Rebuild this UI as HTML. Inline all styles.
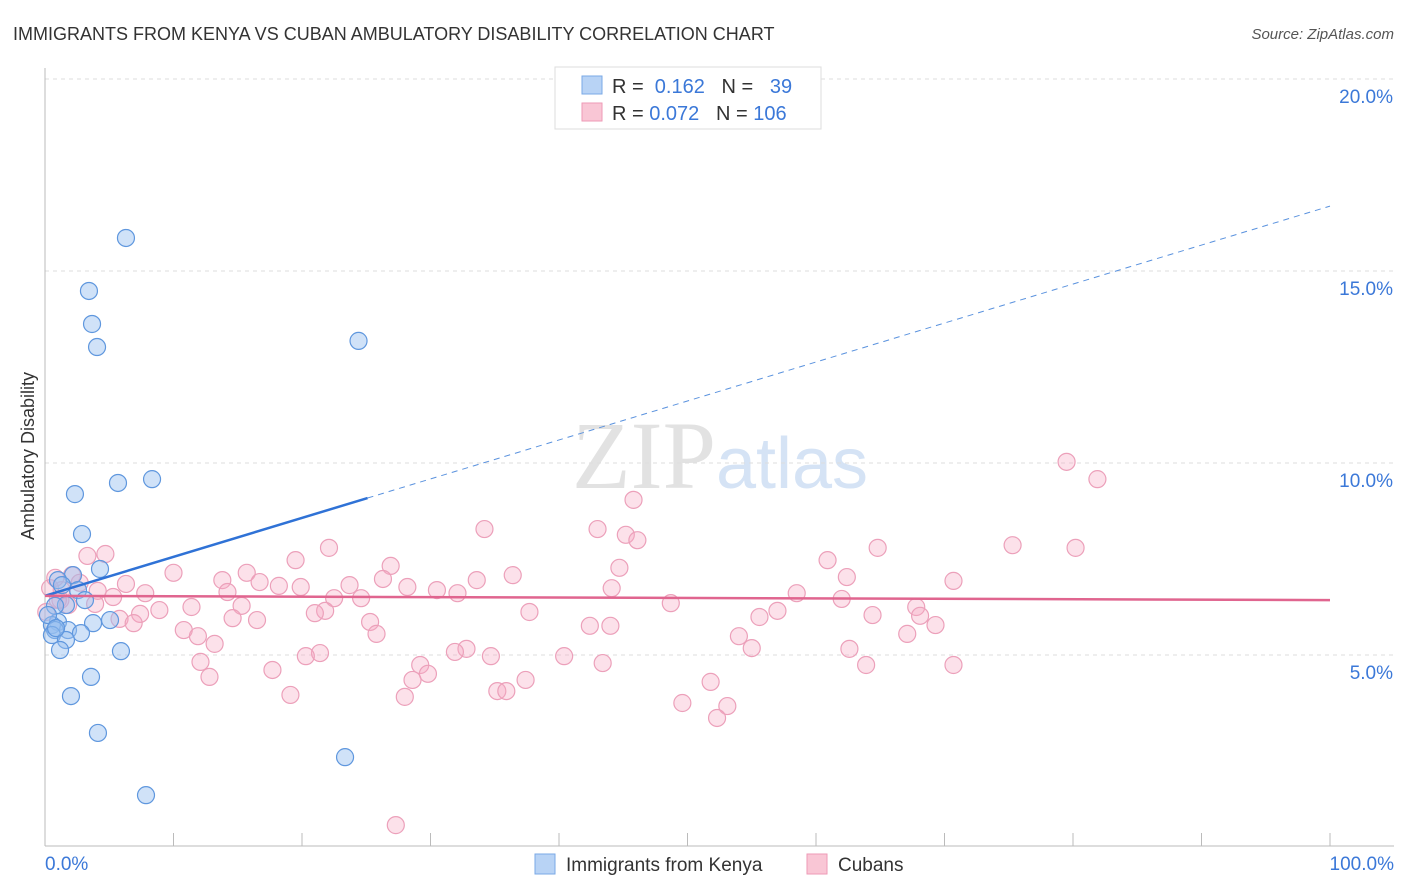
<!DOCTYPE html>
<html><head><meta charset="utf-8"><style>
body{margin:0;background:#fff;font-family:"Liberation Sans",sans-serif}
svg{display:block}
</style></head><body>
<svg width="1406" height="892">
<text x="13" y="40" font-size="18" fill="#333">IMMIGRANTS FROM KENYA VS CUBAN AMBULATORY DISABILITY CORRELATION CHART</text>
<text x="1394" y="39" font-size="15" fill="#555" font-style="italic" text-anchor="end">Source: ZipAtlas.com</text>
<text x="720" y="488" font-size="96" fill="#e2e2e2" text-anchor="middle" font-family="Liberation Serif,serif">ZIP<tspan fill="#d5e3f5" font-family="Liberation Sans,sans-serif" font-size="72">atlas</tspan></text>
<g id="grid"></g><g id="axes"></g>
<text transform="translate(34,456) rotate(-90)" font-size="18" fill="#333" text-anchor="middle">Ambulatory Disability</text>
<g id="pts"></g><g id="lines"></g>
<g>
<rect x="555" y="67" width="266" height="62" fill="#fff" stroke="#ddd"/>
<rect x="582" y="76" width="20" height="18" fill="#b8d3f5" stroke="#7aa8e6"/>
<rect x="582" y="103" width="20" height="18" fill="#f9c6d5" stroke="#ee9ab6"/>
<text x="612" y="93" font-size="20" fill="#333">R = <tspan fill="#3b78d8">&#160;0.162</tspan>&#160;&#160;&#160;N = <tspan fill="#3b78d8">&#160;&#160;39</tspan></text>
<text x="612" y="120" font-size="20" fill="#333">R = <tspan fill="#3b78d8">0.072</tspan>&#160;&#160;&#160;N = <tspan fill="#3b78d8">106</tspan></text>
</g>
<g>
<rect x="535" y="854" width="20" height="20" fill="#b8d3f5" stroke="#7aa8e6"/>
<text x="566" y="871" font-size="19" fill="#333">Immigrants from Kenya</text>
<rect x="807" y="854" width="20" height="20" fill="#f9c6d5" stroke="#ee9ab6"/>
<text x="838" y="871" font-size="19" fill="#333">Cubans</text>
</g>
<text x="45" y="870" font-size="19" fill="#3b78d8">0.0%</text>
<text x="1394" y="870" font-size="19" fill="#3b78d8" text-anchor="end">100.0%</text>
</svg>
<script>
const kenyaX=[6.3,3.42,3.66,4.05,24.4,8.33,5.68,2.33,2.88,4.28,2.18,1.01,2.57,3.11,1.63,0.78,5.06,3.74,1.01,0.54,1.79,2.8,0.78,0.54,1.63,1.17,5.91,3.58,2.02,4.12,23.35,7.86,0.23,1.32,0.86];
const kenyaY=[15.86,14.48,13.62,13.02,13.18,9.58,9.48,9.19,8.15,7.24,7.08,6.95,6.69,6.43,6.30,6.28,5.91,5.83,5.86,5.78,5.65,5.57,5.65,5.52,5.39,5.13,5.10,4.43,3.93,2.97,2.34,1.35,6.04,6.82,5.7];
const cubaX=[79.5,81.9,45.8,34.2,43.0,45.2,46.1,22.1,64.8,75.3,80.2,3.3,4.7,19.5,26.9,44.7,60.9,10.0,15.7,36.4,2.1,26.3,6.3,13.8,16.7,23.7,28.2,33.6,62.4,70.7,18.2,19.9,30.5,32.1,4.1,5.3,7.8,44.1,58.5,1.3,14.2,22.5,24.6,0.4,3.9,11.4,8.9,15.3,21.8,37.7,48.7,62.0,67.8,7.4,5.8,14.6,6.9,16.5,21.0,25.3,64.4,55.6,57.0,68.1,69.3,10.8,11.9,25.8,42.4,44.0,54.0,67.1,13.2,32.8,21.4,20.3,31.9,34.7,40.4,55.0,62.6,12.1,17.7,29.2,43.4,29.8,63.9,70.7,12.8,28.6,37.4,19.1,28.0,35.2,35.9,51.8,49.6,53.1,52.3,27.3,1.2,0.8,0.1,2.7,1.8,1.0];
const cubaY=[10.03,9.58,9.04,8.28,8.28,8.13,7.99,7.79,7.79,7.86,7.79,7.58,7.63,7.47,7.32,7.27,7.47,7.14,7.14,7.08,7.08,6.98,6.85,6.95,6.90,6.82,6.77,6.95,7.03,6.93,6.80,6.77,6.69,6.61,6.67,6.51,6.61,6.74,6.61,6.69,6.64,6.48,6.48,6.74,6.33,6.25,6.17,6.28,6.15,6.12,6.35,6.46,6.25,6.07,5.94,5.96,5.83,5.91,6.09,5.86,6.04,5.99,6.15,6.02,5.78,5.65,5.49,5.55,5.76,5.76,5.49,5.55,5.29,5.16,5.05,4.97,5.08,4.97,4.97,5.18,5.16,4.82,4.61,4.74,4.79,4.51,4.74,4.74,4.43,4.35,4.35,3.96,3.91,4.06,4.06,4.30,3.75,3.67,3.36,0.57,6.43,7.01,6.12,6.88,6.30,6.43];
const yTicks=[5,10,15,20];
const yTickLabels=["5.0%","10.0%","15.0%","20.0%"];
const kenyaTrend=[6.54,16.69]; // y at x=0, x=100
const cubaTrend=[6.54,6.43];
const kenyaSolidEnd=25.1;
const sx=v=>45+v*12.85, sy=v=>847-v*38.4;
const NS="http://www.w3.org/2000/svg";
function mk(t,a,p){const e=document.createElementNS(NS,t);for(const k in a)e.setAttribute(k,a[k]);p.appendChild(e);return e;}
const grid=document.getElementById('grid'),axes=document.getElementById('axes');
yTicks.forEach((t,i)=>{
 const l=mk('line',{x1:45,x2:1394,y1:sy(t),y2:sy(t),stroke:'#ddd','stroke-dasharray':'4,4'},grid);
 
 
 const tx=mk('text',{x:1393,y:sy(t)+24,'font-size':19,fill:'#3b78d8','text-anchor':'end'},grid);
 tx.textContent=yTickLabels[i];
 
 
});
let a=mk('line',{x1:45,x2:45,y1:68,y2:846,stroke:'#bbb'},axes);


a=mk('line',{x1:45,x2:1394,y1:846,y2:846,stroke:'#bbb'},axes);


for(let i=0;i<=10;i++){const t=mk('line',{x1:sx(i*10),x2:sx(i*10),y1:833,y2:846,stroke:'#bbb'},axes);
 
 }
const pts=document.getElementById('pts');
cubaX.forEach((x,i)=>{const c=mk('circle',{cx:sx(x),cy:sy(cubaY[i]),r:8.5,fill:'rgba(246,170,196,0.35)',stroke:'#eca0ba','stroke-width':1.2},pts);
 
 });
kenyaX.forEach((x,i)=>{const c=mk('circle',{cx:sx(x),cy:sy(kenyaY[i]),r:8.5,fill:'rgba(150,190,240,0.45)',stroke:'#5f97de','stroke-width':1.2},pts);
 
 });
const lines=document.getElementById('lines');
const ky=x=>kenyaTrend[0]+(kenyaTrend[1]-kenyaTrend[0])*x/100;
let l=mk('line',{x1:sx(0),y1:sy(ky(0)),x2:sx(kenyaSolidEnd),y2:sy(ky(kenyaSolidEnd)),stroke:'#2f72d6','stroke-width':2.5},lines);


l=mk('line',{x1:sx(kenyaSolidEnd),y1:sy(ky(kenyaSolidEnd)),x2:sx(100),y2:sy(ky(100)),stroke:'#5a92de','stroke-width':1,'stroke-dasharray':'6,5'},lines);


l=mk('line',{x1:sx(0),y1:sy(cubaTrend[0]),x2:sx(100),y2:sy(cubaTrend[1]),stroke:'#e0658f','stroke-width':2.5},lines);


</script>
</body></html>
